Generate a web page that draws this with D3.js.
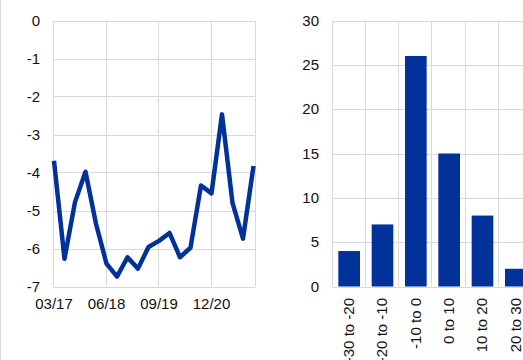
<!DOCTYPE html>
<html><head><meta charset="utf-8">
<script src="https://cdn.jsdelivr.net/npm/d3@7"></script>
<style>
html,body{margin:0;padding:0;background:#fff;}
svg{display:block;font-family:"Liberation Sans",Arial,sans-serif;}
</style></head>
<body>
<script>
// Left chart: quarterly series 03/17 .. 12/21
const lineValues = [-3.69,-6.27,-4.78,-3.98,-5.35,-6.40,-6.74,-6.23,-6.53,-5.96,-5.80,-5.59,-6.23,-5.98,-4.34,-4.55,-2.47,-4.80,-5.74,-3.83];
const lineTickIndex = [0,5,10,15];
const lineTickLabels = ["03/17","06/18","09/19","12/20"];
const lineYTicks = [0,-1,-2,-3,-4,-5,-6,-7];

// Right chart: distribution
const barCategories = ["-30 to -20","-20 to -10","-10 to 0","0 to 10","10 to 20","20 to 30"];
const barValues = [4,7,26,15,8,2];
const barYTicks = [0,5,10,15,20,25,30];

const W = 523, H = 360;
const blue = "#003299", grid = "#d9d9d9", txt = "#111";
const svg = d3.select("body").append("svg").attr("width", W).attr("height", H);

// left border line
svg.append("line").attr("x1",0.5).attr("x2",0.5).attr("y1",0).attr("y2",H).attr("stroke",grid);

// ---------- Left line chart ----------
const L = {left:53.5, right:255.5, top:20.5, bottom:286.5};
const xL = d3.scaleLinear().domain([0, lineValues.length-1]).range([L.left+0.5, 253.5]);
const yL = d3.scaleLinear().domain([-7, 0]).range([L.bottom, L.top]);
const gL = svg.append("g");
gL.selectAll("line.h").data(lineYTicks).join("line")
  .attr("x1",L.left).attr("x2",L.right)
  .attr("y1",d=>Math.round(yL(d))+0.5).attr("y2",d=>Math.round(yL(d))+0.5)
  .attr("stroke",grid);
gL.selectAll("line.v").data(lineTickIndex).join("line")
  .attr("x1",d=>Math.round(xL(d))-0.5).attr("x2",d=>Math.round(xL(d))-0.5)
  .attr("y1",L.top).attr("y2",L.bottom).attr("stroke",grid);
gL.append("line").attr("x1",L.right).attr("x2",L.right).attr("y1",L.top).attr("y2",L.bottom).attr("stroke",grid);
gL.selectAll("text.y").data(lineYTicks).join("text")
  .attr("x",40).attr("y",d=>yL(d)).attr("dy","0.35em")
  .attr("text-anchor","end").attr("font-size",15).attr("fill",txt)
  .text(d=>d);
gL.selectAll("text.x").data(lineTickIndex).join("text")
  .attr("x",d=>xL(d)).attr("y",309)
  .attr("text-anchor","middle").attr("font-size",15).attr("fill",txt)
  .text((d,i)=>lineTickLabels[i]);
gL.append("path").datum(lineValues)
  .attr("d", d3.line().x((d,i)=>xL(i)).y(d=>yL(d)))
  .attr("fill","none").attr("stroke",blue).attr("stroke-width",4.5)
  .attr("stroke-linejoin","round").attr("stroke-linecap","butt");

// ---------- Right bar chart ----------
const R = {left:332.5, top:20.5, bottom:286.5};
const step = 33.33;
const xR = d3.scaleBand().domain(barCategories)
  .range([R.left, R.left + step*barCategories.length])
  .paddingInner(0.35).paddingOuter(0.175);
const yR = d3.scaleLinear().domain([0,30]).range([R.bottom, R.top]);
const gR = svg.append("g");
gR.selectAll("line.h").data(barYTicks).join("line")
  .attr("x1",R.left).attr("x2",W)
  .attr("y1",d=>Math.round(yR(d))+0.5).attr("y2",d=>Math.round(yR(d))+0.5)
  .attr("stroke",grid);
const bounds = d3.range(barCategories.length+1).map(i=>R.left + i*step);
gR.selectAll("line.v").data(bounds).join("line")
  .attr("x1",d=>Math.round(d)-0.5).attr("x2",d=>Math.round(d)-0.5)
  .attr("y1",R.top).attr("y2",R.bottom).attr("stroke",grid);
gR.selectAll("rect").data(barValues).join("rect")
  .attr("x",(d,i)=>xR(barCategories[i]))
  .attr("width",xR.bandwidth())
  .attr("y",d=>yR(d)).attr("height",d=>yR(0)-yR(d))
  .attr("fill",blue);
gR.selectAll("text.y").data(barYTicks).join("text")
  .attr("x",319).attr("y",d=>yR(d)).attr("dy","0.35em")
  .attr("text-anchor","end").attr("font-size",15).attr("fill",txt)
  .text(d=>d);
gR.selectAll("text.x").data(barCategories).join("text")
  .attr("transform",d=>`translate(${xR(d)+xR.bandwidth()/2+5},298) rotate(-90)`)
  .attr("text-anchor","end").attr("font-size",15).attr("fill",txt)
  .text(d=>d);
</script>
</body></html>
